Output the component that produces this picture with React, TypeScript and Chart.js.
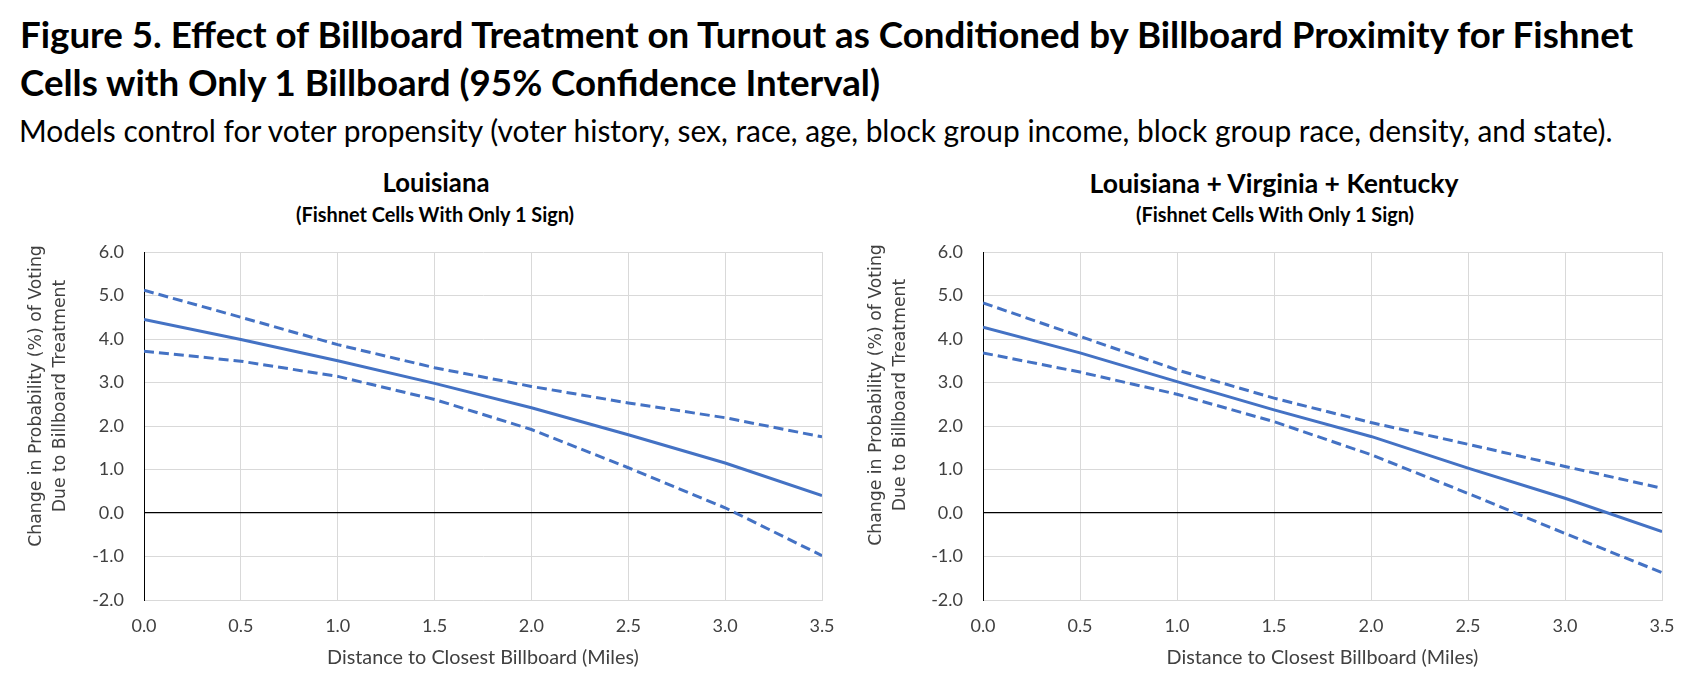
import React, { useEffect, useRef } from "react";
import { Chart, registerables } from "chart.js";

Chart.register(...registerables);

// ---------------- data ----------------
const distanceMiles = [0, 0.5, 1.0, 1.5, 2.0, 2.5, 3.0, 3.5];

const laEffect = [4.45, 3.99, 3.5, 2.98, 2.42, 1.8, 1.15, 0.4];
const laUpper = [5.12, 4.5, 3.87, 3.34, 2.91, 2.53, 2.19, 1.75];
const laLower = [3.72, 3.49, 3.14, 2.61, 1.92, 1.04, 0.12, -0.98];

const allEffect = [4.27, 3.68, 3.02, 2.37, 1.76, 1.03, 0.34, -0.43];
const allUpper = [4.83, 4.06, 3.29, 2.64, 2.08, 1.58, 1.07, 0.57];
const allLower = [3.68, 3.24, 2.73, 2.1, 1.34, 0.45, -0.47, -1.37];

const xTickValues = [0, 0.5, 1.0, 1.5, 2.0, 2.5, 3.0, 3.5];
const xTickLabels = ["0.0", "0.5", "1.0", "1.5", "2.0", "2.5", "3.0", "3.5"];
const yTickValues = [-2, -1, 0, 1, 2, 3, 4, 5, 6];
const yTickLabels = ["-2.0", "-1.0", "0.0", "1.0", "2.0", "3.0", "4.0", "5.0", "6.0"];

const figTitle1 =
  "Figure 5. Effect of Billboard Treatment on Turnout as Conditioned by Billboard Proximity for Fishnet";
const figTitle2 = "Cells with Only 1 Billboard (95% Confidence Interval)";
const figSubtitle =
  "Models control for voter propensity (voter history, sex, race, age, block group income, block group race, density, and state).";
const leftTitle = "Louisiana";
const rightTitle = "Louisiana + Virginia + Kentucky";
const panelSubtitle = "(Fishnet Cells With Only 1 Sign)";
const yTitle1 = "Change in Probability (%) of Voting";
const yTitle2 = "Due to Billboard Treatment";
const xTitle = "Distance to Closest Billboard (Miles)";

// ---------------- style ----------------
const BLUE = "#4472C4";
const GRID = "#d9d9d9";
const CAL = "Lato";
const VER = "'DejaVu Sans'";

let mctx: CanvasRenderingContext2D | null = null;
function metrics(text: string, family: string, weight: number, size: number) {
  if (!mctx) mctx = document.createElement("canvas").getContext("2d");
  mctx!.font = `${weight} ${size}px ${family}`;
  return mctx!.measureText(text);
}
function fit(text: string, family: string, weight: number, width: number) {
  const m = metrics(text, family, weight, 100);
  return (100 * width) / m.width;
}

function Label(props: {
  text: string;
  family: string;
  weight: number;
  size: number;
  x: number;
  baseline: number;
  align: "left" | "center";
}) {
  const { text, family, weight, size, x, baseline, align } = props;
  const m = metrics(text, family, weight, size);
  const A = (m as any).fontBoundingBoxAscent ?? size * 0.95;
  const D = (m as any).fontBoundingBoxDescent ?? size * 0.25;
  const top = baseline - (size / 2 + (A - D) / 2);
  const style: React.CSSProperties = {
    position: "absolute",
    top,
    left: x,
    whiteSpace: "nowrap",
    fontFamily: family,
    fontWeight: weight,
    fontSize: size,
    lineHeight: `${size}px`,
    color: "#000",
    transform: align === "center" ? "translateX(-50%)" : undefined,
  };
  return <div style={style}>{text}</div>;
}

function VLabel(props: { text: string; size: number; cx: number; cy: number }) {
  const { text, size, cx, cy } = props;
  const style: React.CSSProperties = {
    position: "absolute",
    left: cx,
    top: cy,
    whiteSpace: "nowrap",
    fontFamily: VER,
    fontSize: size,
    lineHeight: `${size}px`,
    color: "#404040",
    transform: "translate(-50%, -50%) rotate(-90deg)",
  };
  return <div style={style}>{text}</div>;
}

function buildConfig(
  effect: number[],
  upper: number[],
  lower: number[],
  yAxisWidth: number,
  padRight: number,
  tickSize: number,
  xTitleSize: number
): any {
  const pts = (vals: number[]) => distanceMiles.map((d, i) => ({ x: d, y: vals[i] }));
  const common = {
    borderColor: BLUE,
    borderWidth: 3,
    pointRadius: 0,
    fill: false,
    tension: 0,
    borderCapStyle: "butt",
  };
  return {
    type: "line",
    data: {
      datasets: [
        { ...common, label: "Estimate", data: pts(effect) },
        { ...common, label: "Upper 95% CI", data: pts(upper), borderDash: [10, 5] },
        { ...common, label: "Lower 95% CI", data: pts(lower), borderDash: [10, 5] },
      ],
    },
    options: {
      responsive: true,
      maintainAspectRatio: false,
      animation: false,
      events: [],
      layout: { padding: { top: 22, right: padRight, left: 0, bottom: 0 } },
      plugins: {
        legend: { display: false },
        tooltip: { enabled: false },
        title: { display: false },
      },
      scales: {
        x: {
          type: "linear",
          min: 0,
          max: 3.5,
          afterBuildTicks: (s: any) => {
            s.ticks = xTickValues.map((v) => ({ value: v }));
          },
          afterFit: (s: any) => {
            s.height = 100;
          },
          ticks: {
            autoSkip: false,
            maxRotation: 0,
            padding: 15,
            color: "#404040",
            font: { family: CAL, size: tickSize },
            callback: (_v: any, i: number) => xTickLabels[i],
          },
          grid: {
            drawTicks: false,
            lineWidth: 1,
            color: (ctx: any) => (ctx.tick && ctx.tick.value === 0 ? "#000" : GRID),
          },
          border: { display: true, color: GRID, width: 1 },
          title: {
            display: true,
            text: xTitle,
            color: "#404040",
            font: { family: CAL, size: xTitleSize, lineHeight: 1.2 },
            padding: { top: 0, bottom: 42 - 0.6 * xTitleSize },
          },
        },
        y: {
          type: "linear",
          min: -2,
          max: 6,
          afterBuildTicks: (s: any) => {
            s.ticks = yTickValues.map((v) => ({ value: v }));
          },
          afterFit: (s: any) => {
            s.width = yAxisWidth;
          },
          ticks: {
            padding: 3,
            color: "#404040",
            font: { family: CAL, size: tickSize },
            callback: (_v: any, i: number) => yTickLabels[i],
          },
          grid: {
            drawTicks: true,
            tickLength: 17,
            tickColor: "rgba(0,0,0,0)",
            lineWidth: (ctx: any) => (ctx.tick && ctx.tick.value === 0 ? 1.3 : 1),
            color: (ctx: any) => (ctx.tick && ctx.tick.value === 0 ? "#000" : GRID),
          },
          border: { display: true, color: "#000", width: 1 },
        },
      },
    },
  };
}

function Panel(props: {
  left: number;
  effect: number[];
  upper: number[];
  lower: number[];
  yAxisWidth: number;
  padRight: number;
  tickSize: number;
  xTitleSize: number;
}) {
  const ref = useRef<HTMLCanvasElement | null>(null);
  useEffect(() => {
    if (!ref.current) return;
    const chart = new Chart(
      ref.current,
      buildConfig(
        props.effect,
        props.upper,
        props.lower,
        props.yAxisWidth,
        props.padRight,
        props.tickSize,
        props.xTitleSize
      )
    );
    return () => chart.destroy();
  }, []);
  return (
    <div style={{ position: "absolute", left: props.left, top: 230, width: 854, height: 470 }}>
      <canvas ref={ref} />
    </div>
  );
}

export default function App() {
  const t1 = fit(figTitle1, CAL, 700, 1619);
  const t2 = t1;
  const sub = fit(figSubtitle, CAL, 400, 1598);
  const ptL = fit(leftTitle, CAL, 700, 107);
  const ptR = fit(rightTitle, CAL, 700, 370);
  const pst = fit(panelSubtitle, CAL, 700, 279);
  const yts = fit(yTitle1, VER, 400, 302);
  const xts = fit(xTitle, CAL, 400, 312);
  const tickSize = 18;

  return (
    <div
      style={{
        position: "absolute",
        left: 0,
        top: 0,
        width: 1708,
        height: 700,
        background: "#fff",
        overflow: "hidden",
      }}
    >
      <Label text={figTitle1} family={CAL} weight={700} size={t1} x={20} baseline={48} align="left" />
      <Label text={figTitle2} family={CAL} weight={700} size={t2} x={20} baseline={96} align="left" />
      <Label text={figSubtitle} family={CAL} weight={400} size={sub} x={19} baseline={143} align="left" />

      <Label text={leftTitle} family={CAL} weight={700} size={ptL} x={436} baseline={193} align="center" />
      <Label text={panelSubtitle} family={CAL} weight={700} size={pst} x={435} baseline={223} align="center" />
      <Label text={rightTitle} family={CAL} weight={700} size={ptR} x={1274} baseline={193} align="center" />
      <Label text={panelSubtitle} family={CAL} weight={700} size={pst} x={1275} baseline={223} align="center" />

      <Panel
        left={0}
        effect={laEffect}
        upper={laUpper}
        lower={laLower}
        yAxisWidth={144}
        padRight={32}
        tickSize={tickSize}
        xTitleSize={xts}
      />
      <Panel
        left={854}
        effect={allEffect}
        upper={allUpper}
        lower={allLower}
        yAxisWidth={129}
        padRight={46}
        tickSize={tickSize}
        xTitleSize={xts}
      />

      <VLabel text={yTitle1} size={yts} cx={36} cy={396} />
      <VLabel text={yTitle2} size={yts} cx={60} cy={396} />
      <VLabel text={yTitle1} size={yts} cx={876} cy={395} />
      <VLabel text={yTitle2} size={yts} cx={900} cy={395} />
    </div>
  );
}
